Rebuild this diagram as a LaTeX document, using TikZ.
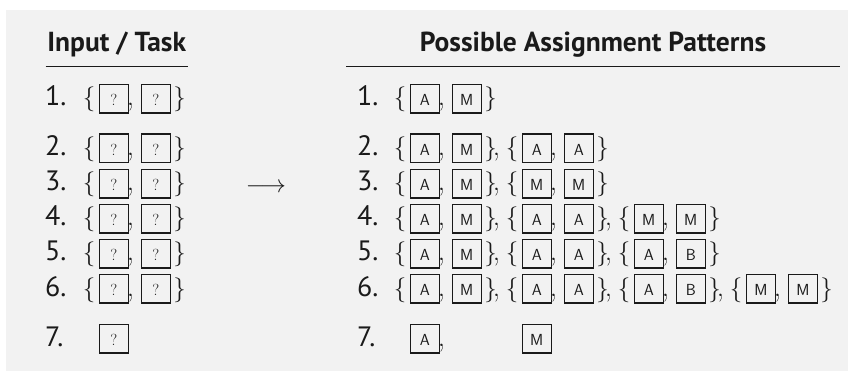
\documentclass[tikz,border=0pt]{standalone}
\usepackage{fontspec}
\newfontfamily\headfont{PT Sans}
\definecolor{bgc}{HTML}{F2F2F2}
\definecolor{ink}{HTML}{1A1A1A}
\newcommand\celltxt[1]{\raisebox{-6.8pt}[0pt][0pt]{#1}}
\tikzset{
  cell/.style={draw=ink, line width=1.1pt, minimum width=28.5pt, minimum height=28.5pt,
    inner sep=0pt, anchor=west, font=\fontsize{16}{18}\selectfont, text=ink},
  glyph/.style={inner sep=0pt, anchor=base, font=\fontsize{29}{34}\selectfont, text=ink},
  numlab/.style={inner sep=0pt, anchor=base west, font=\headfont\fontsize{28}{34}\selectfont, text=ink},
  head/.style={inner sep=0pt, anchor=base, font=\headfont\bfseries\fontsize{27.5}{32}\selectfont, text=ink},
  rulel/.style={draw=ink, line width=1pt},
}
% #1 name, #2 x of first box (left edge), #3 baseline, #4 #5 labels, #6 trailing comma
\newcommand\pairgrp[6]{%
  \node[glyph] (#1lb) at (#2-10, #3) {$\{$};
  \node[cell] (#1a) at (#2, #3-7.25) {\celltxt{#4}};
  \node[glyph] (#1c) at (#2+31.5, #3) {,};
  \node[cell] (#1b) at (#2+42, #3-7.25) {\celltxt{#5}};
  \node[glyph] (#1rb) at (#2+80.5, #3) {$\}$};
  \ifx\relax#6\relax\else\node[glyph] (#1t) at (#2+86.5, #3) {,};\fi
}
\newcommand\Ql{?}
\newcommand\La{\sffamily A}
\newcommand\Lm{\sffamily M}
\newcommand\Lb{\sffamily B}
\begin{document}
\begin{tikzpicture}[x=1pt, y=-1pt]
  \useasboundingbox (0,0) rectangle (848,371);
  \fill[white] (0,0) rectangle (848,371);
  \fill[bgc] (6,10) rectangle (848,371);
  % headings
  \node[head] (hl) at (116.7,52) {Input / Task};
  \node[head] (hr) at (593,52) {Possible Assignment Patterns};
  \coordinate (hl1) at (45.7,66.7); \coordinate (hl2) at (187.7,66.7);
  \coordinate (hr1) at (346,66.7); \coordinate (hr2) at (840,66.7);
  \draw[rulel] (hl1) -- (hl2);
  \draw[rulel] (hr1) -- (hr2);
  % left column
  \foreach \n/\y in {1/106, 2/155.5, 3/191, 4/226, 5/261, 6/296} {
    \node[numlab] (ln\n) at (45,\y) {\n.};
    \pairgrp{l\n}{99}{\y}{\Ql}{\Ql}{}
  }
  \node[numlab] (ln7) at (45,346) {7.};
  \node[cell] (l7a) at (99,346-7.25) {\celltxt{\Ql}};
  % arrow
  \node[glyph] (arr) at (266,193) {$\longrightarrow$};
  % right column
  \foreach \n/\y in {1/106, 2/155.5, 3/191, 4/226, 5/261, 6/296} {
    \node[numlab] (rn\n) at (357,\y) {\n.};
  }
  \node[numlab] (rn7) at (357,346) {7.};
  \pairgrp{ra1}{410}{106}{\La}{\Lm}{}
  \pairgrp{ra2}{410}{155.5}{\La}{\Lm}{x}
  \pairgrp{rb2}{522}{155.5}{\La}{\La}{}
  \pairgrp{ra3}{410}{191}{\La}{\Lm}{x}
  \pairgrp{rb3}{522}{191}{\Lm}{\Lm}{}
  \pairgrp{ra4}{410}{226}{\La}{\Lm}{x}
  \pairgrp{rb4}{522}{226}{\La}{\La}{x}
  \pairgrp{rc4}{634}{226}{\Lm}{\Lm}{}
  \pairgrp{ra5}{410}{261}{\La}{\Lm}{x}
  \pairgrp{rb5}{522}{261}{\La}{\La}{x}
  \pairgrp{rc5}{634}{261}{\La}{\Lb}{}
  \pairgrp{ra6}{410}{296}{\La}{\Lm}{x}
  \pairgrp{rb6}{522}{296}{\La}{\La}{x}
  \pairgrp{rc6}{634}{296}{\La}{\Lb}{x}
  \pairgrp{rd6}{746}{296}{\Lm}{\Lm}{}
  \node[cell] (r7a) at (410,346-7.25) {\celltxt{\La}};
  \node[glyph] (r7c) at (441.5,346) {,};
  \node[cell] (r7b) at (522,346-7.25) {\celltxt{\Lm}};
\end{tikzpicture}
\end{document}
